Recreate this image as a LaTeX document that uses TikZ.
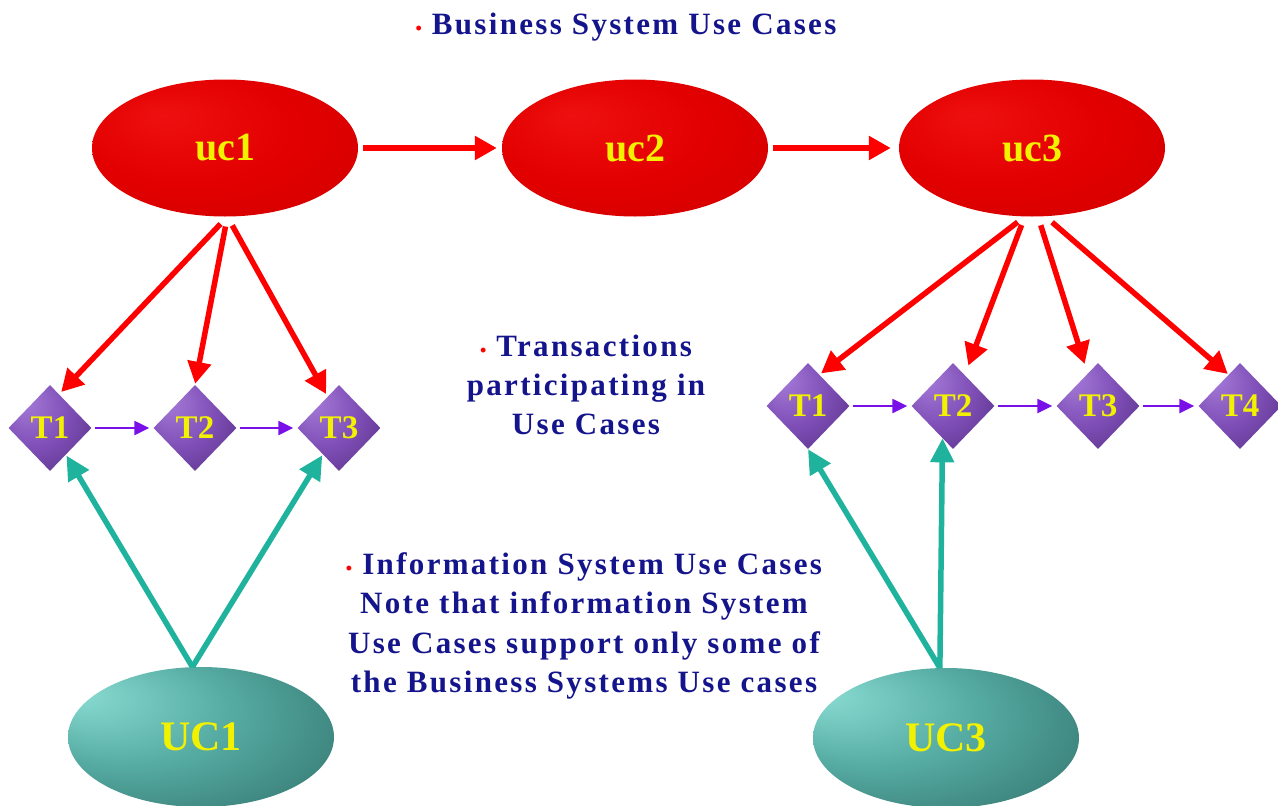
\documentclass[tikz,border=0pt]{standalone}
\usepackage{fontspec}
\setmainfont{Liberation Serif}
\newfontfamily\lsfont[LetterSpace=7.5]{Liberation Serif}
\usetikzlibrary{shapes.geometric,arrows.meta}

\definecolor{navy}{HTML}{14148C}
\definecolor{ucyellow}{HTML}{F2F200}
\definecolor{tealline}{HTML}{1FB39E}
\definecolor{violetline}{HTML}{7A10E8}
\definecolor{redA}{HTML}{EE1010}
\definecolor{redB}{HTML}{E30000}
\definecolor{redC}{HTML}{D00000}
\definecolor{redD}{HTML}{B80000}
\definecolor{tealA}{HTML}{8ADCD2}
\definecolor{tealB}{HTML}{55ABA2}
\definecolor{tealC}{HTML}{2F6E68}
\definecolor{tealD}{HTML}{22504C}
\definecolor{purpA}{HTML}{A87EDB}
\definecolor{purpB}{HTML}{7E4EB6}
\definecolor{purpC}{HTML}{4E2A7A}
\definecolor{purpD}{HTML}{3A1C58}

% soft highlight towards the upper left of each shape
\pgfdeclareradialshading{redglow}{\pgfpoint{-12bp}{12bp}}{%
  color(0bp)=(redA); color(20bp)=(redB);
  color(42bp)=(redC); color(50bp)=(redD)}
\pgfdeclareradialshading{tealglow}{\pgfpoint{-24bp}{16bp}}{%
  color(0bp)=(tealA); color(20bp)=(tealB);
  color(44bp)=(tealC); color(50bp)=(tealD)}
\pgfdeclareradialshading{violetglow}{\pgfpoint{-18bp}{18bp}}{%
  color(0bp)=(purpA); color(22bp)=(purpB);
  color(44bp)=(purpC); color(50bp)=(purpD)}

\tikzset{
  bizcase/.style={ellipse, shading=redglow, minimum width=266pt,
    minimum height=137pt, inner sep=0pt, text=ucyellow,
    font=\bfseries\fontsize{40}{40}\selectfont},
  syscase/.style={ellipse, shading=tealglow, minimum width=266pt,
    minimum height=140pt, inner sep=0pt, text=ucyellow,
    font=\bfseries\fontsize{42}{42}\selectfont},
  txn/.style={diamond, shading=violetglow, minimum width=83pt,
    minimum height=86pt, inner sep=0pt, text=ucyellow,
    font=\bfseries\fontsize{33}{33}\selectfont},
  redarrow/.style={draw=red, line width=5.5pt,
    -{Triangle[length=22pt,width=23pt]}},
  seqarrow/.style={draw=violetline, line width=2.4pt,
    -{Triangle[length=15pt,width=14pt]}},
  tealarrow/.style={draw=tealline, line width=5.5pt,
    -{Triangle[length=24pt,width=23pt]}},
  note/.style={text=navy, align=center,
    font=\lsfont\bfseries\fontsize{31}{39.3}\selectfont},
}
\newcommand{\redbullet}{\textcolor{red}{\fontsize{18}{18}\selectfont\textbullet}\ }

\begin{document}
\begin{tikzpicture}[x=1pt,y=-1pt]
\useasboundingbox (0,0) rectangle (1278,806);
\fill[white] (0,0) rectangle (1278,806);

% business system use cases
\node[bizcase] (uc1) at (225,148) {uc1};
\node[bizcase] (uc2) at (635,148) {uc2};
\node[bizcase] (uc3) at (1032,148) {uc3};

% transactions
\node[txn] (l1) at (50,428) {T1};
\node[txn] (l2) at (195,428) {T2};
\node[txn] (l3) at (339,428) {T3};
\node[txn] (r1) at (808,406) {T1};
\node[txn] (r2) at (953,406) {T2};
\node[txn] (r3) at (1098,406) {T3};
\node[txn] (r4) at (1240,406) {T4};

% information system use cases
\node[syscase] (UC1) at (201,737) {UC1};
\node[syscase] (UC3) at (946,738) {UC3};

% captions
\node[note] (cap1) at (626,27) {\redbullet Business System Use Cases};
\node[note] (cap2) at (586,385) {\redbullet Transactions\\participating in\\Use Cases};
\node[note] (cap3) at (584,626) {\redbullet Information System Use Cases\\Note that information System\\Use Cases support only some of\\the Business Systems Use cases};

% flow between business use cases
\draw[redarrow, shorten <=5pt, shorten >=5pt] (uc1) -- (uc2);
\draw[redarrow, shorten <=5pt, shorten >=8pt] (uc2) -- (uc3);

% business use cases to their transactions
\draw[redarrow, shorten <=10pt, shorten >=3pt] (uc1.-88) -- (l1.75);
\draw[redarrow, shorten <=10pt, shorten >=1pt] (uc1.-88) -- (l2.north);
\draw[redarrow, shorten <=10pt, shorten >=3pt] (uc1.-88) -- (l3.110);
\draw[redarrow, shorten <=9pt, shorten >=2pt] (uc3.-96) -- (r1.70);
\draw[redarrow, shorten <=9pt, shorten >=10pt] (uc3.-96) -- (r2);
\draw[redarrow, shorten <=9pt, shorten >=10pt] (uc3.-85) -- (r3);
\draw[redarrow, shorten <=9pt, shorten >=1pt] (uc3.-79) -- (r4.110);

% transaction sequences
\draw[seqarrow, shorten <=3pt, shorten >=4pt] (l1) -- (l2);
\draw[seqarrow, shorten <=3pt, shorten >=4pt] (l2) -- (l3);
\draw[seqarrow, shorten <=3pt, shorten >=4pt] (r1) -- (r2);
\draw[seqarrow, shorten <=3pt, shorten >=4pt] (r2) -- (r3);
\draw[seqarrow, shorten <=3pt, shorten >=4pt] (r3) -- (r4);

% information system use cases supporting transactions
\draw[tealarrow, shorten >=1pt] (UC1.97) -- (l1);
\draw[tealarrow, shorten >=1pt] (UC1.97) -- (l3);
\draw[tealarrow, shorten >=0pt] (UC3.95) -- (r1.south);
\draw[tealarrow, shorten >=0pt] (UC3.95) -- (r2.-108);
\end{tikzpicture}
\end{document}
